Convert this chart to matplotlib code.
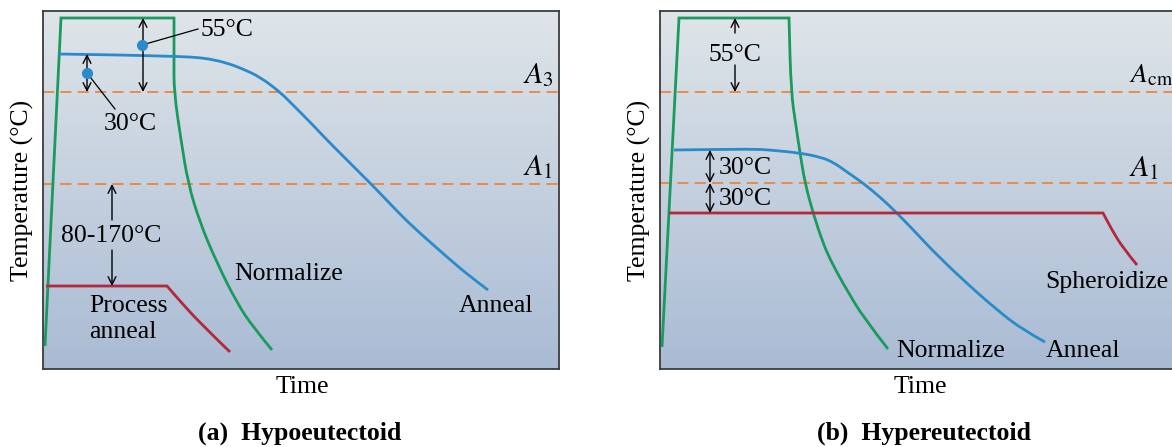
import numpy as np
import matplotlib
matplotlib.use("Agg")
import matplotlib.pyplot as plt
from matplotlib.colors import LinearSegmentedColormap
from matplotlib.path import Path
from matplotlib.patches import PathPatch

plt.rcParams['font.family'] = ['Liberation Serif', 'DejaVu Serif']
plt.rcParams['mathtext.fontset'] = 'stix'
plt.rcParams['lines.scale_dashes'] = False

# ---------------- data (time units, temperature units) ----------------
# (a) Hypoeutectoid
a_norm_t = [2, 18, 131, 131, 131, 138, 145, 157, 174, 194, 210, 229]
a_norm_T = [23, 351, 351, 309, 277, 229, 186, 146, 106, 66, 42, 19]
a_anneal_t = [15, 77, 117, 150, 167, 184, 200, 217, 237, 250, 267, 284, 300, 317,
              334, 352, 370, 404, 425, 445]
a_anneal_T = [315, 314, 313, 312, 310, 306, 300, 292, 277, 264, 247, 229, 213, 196,
              179, 160, 142, 112, 94, 79]
a_proc_t = [3, 124, 137, 157, 187]
a_proc_T = [83, 83, 68, 46, 17]
a_A3 = 277
a_A1 = 185

# (b) Hypereutectoid
b_norm_t = [2, 19, 129, 131, 136, 140, 145, 153, 163, 170, 180, 187, 203, 228]
b_norm_T = [22, 351, 351, 277, 243, 216, 186, 156, 126, 110, 91, 79, 52, 20]
b_anneal_t = [14, 93, 110, 140, 160, 173, 187, 203, 220, 237, 260, 272, 303, 337, 363, 385]
b_anneal_T = [219, 220, 219, 216, 212, 207, 197, 186, 172, 156, 132, 119, 89, 59, 39, 27]
b_sph_t = [9, 443, 452, 463, 477]
b_sph_T = [156, 156, 139, 121, 104]
b_Acm = 277
b_A1 = 186

XMAX, YMAX = 516, 358

GREEN = '#1b9a5e'
BLUE = '#2a8bc8'
RED = '#b3283a'
ORANGE = '#ea8a4c'
TXT = 18.5

W, H = 1172, 447
fig = plt.figure(figsize=(W / 100, H / 100), dpi=100)


def make_ax(left_px):
    ax = fig.add_axes([left_px / W, (H - 369) / H, XMAX / W, YMAX / H])
    ax.set_xlim(0, XMAX)
    ax.set_ylim(0, YMAX)
    cmap = LinearSegmentedColormap.from_list('bg', ['#a9bbd4', '#dfe5e9'])
    grad = np.linspace(0, 1, 256).reshape(-1, 1)
    ax.imshow(grad, extent=[0, XMAX, 0, YMAX], origin='lower', aspect='auto',
              cmap=cmap, zorder=0)
    ax.set_xticks([])
    ax.set_yticks([])
    for s in ax.spines.values():
        s.set_color('#3c3c3c')
        s.set_linewidth(1.3)
    return ax


def curve(ax, t, T, color, n_sharp):
    """Polyline through the first n_sharp points, then a smooth quadratic
    Bezier path using the remaining points as control points."""
    pts = list(zip(t, T))
    verts = [pts[0]]
    codes = [Path.MOVETO]
    k = n_sharp - 1
    for p in pts[1:k + 1]:
        verts.append(p)
        codes.append(Path.LINETO)
    rest = pts[k:]
    if len(rest) > 2:
        m = ((rest[0][0] + rest[1][0]) / 2, (rest[0][1] + rest[1][1]) / 2)
        verts.append(m)
        codes.append(Path.LINETO)
        for i in range(1, len(rest) - 1):
            c = rest[i]
            if i < len(rest) - 2:
                e = ((rest[i][0] + rest[i + 1][0]) / 2, (rest[i][1] + rest[i + 1][1]) / 2)
            else:
                e = rest[i + 1]
            verts += [c, e]
            codes += [Path.CURVE3, Path.CURVE3]
    else:
        for p in rest[1:]:
            verts.append(p)
            codes.append(Path.LINETO)
    ax.add_patch(PathPatch(Path(verts, codes), facecolor='none', edgecolor=color,
                           lw=2.0, zorder=3, joinstyle='miter', capstyle='butt'))


def arrow(ax, x, y0, y1, style='<->'):
    ax.annotate('', xy=(x, y1), xytext=(x, y0),
                arrowprops=dict(arrowstyle=style, lw=1.0, color='black',
                                shrinkA=0, shrinkB=0, mutation_scale=14), zorder=5)


def dashed(ax, y):
    ax.axhline(y, color=ORANGE, lw=1.4, dashes=(8, 4.5), zorder=2)


def ylab(ax):
    ax.text(-0.039, 0.5, 'Temperature (°C)', transform=ax.transAxes, fontsize=TXT,
            rotation=90, ha='center', va='center')


# ---------------- (a) ----------------
ax = make_ax(43)
dashed(ax, a_A3)
dashed(ax, a_A1)
curve(ax, a_norm_t, a_norm_T, GREEN, 3)
curve(ax, a_anneal_t, a_anneal_T, BLUE, 1)
curve(ax, a_proc_t, a_proc_T, RED, 2)

arrow(ax, 100, 277, 351)
arrow(ax, 44, 277, 315)
arrow(ax, 69, 149, a_A1, '->')
arrow(ax, 69, 119, 83, '->')
ax.plot([99, 155], [324, 340], color='black', lw=0.9, zorder=4)
ax.plot([44, 72], [296, 260], color='black', lw=0.9, zorder=4)
ax.plot([99], [324], 'o', color=BLUE, ms=7, zorder=6)
ax.plot([44], [296], 'o', color=BLUE, ms=7, zorder=6)

ax.text(157, 339, '55°C', fontsize=TXT, ha='left', va='center')
ax.text(61, 245, '30°C', fontsize=TXT, ha='left', va='center')
ax.text(68.5, 133, '80-170°C', fontsize=TXT, ha='center', va='center')
ax.text(191, 95, 'Normalize', fontsize=TXT, ha='left', va='center')
ax.text(46, 50, 'Process\nanneal', fontsize=TXT, ha='left', va='center', linespacing=1.2)
ax.text(416, 63, 'Anneal', fontsize=TXT, ha='left', va='center')
ax.text(480, 294, r'$A_3$', fontsize=TXT + 3, ha='left', va='center')
ax.text(480, 202, r'$A_1$', fontsize=TXT + 3, ha='left', va='center')

ylab(ax)
ax.text(0.502, -0.05, 'Time', transform=ax.transAxes, fontsize=TXT, ha='center', va='center')
ax.text(0.498, -0.179, '(a)  Hypoeutectoid', transform=ax.transAxes, fontsize=TXT,
        fontweight='bold', ha='center', va='center')

# ---------------- (b) ----------------
bx = make_ax(660)
dashed(bx, b_Acm)
dashed(bx, b_A1)
curve(bx, b_norm_t, b_norm_T, GREEN, 3)
curve(bx, b_anneal_t, b_anneal_T, BLUE, 1)
curve(bx, b_sph_t, b_sph_T, RED, 2)

arrow(bx, 75, 336, 351, '->')
arrow(bx, 75, 304, 277, '->')
arrow(bx, 50, b_A1, 219)
arrow(bx, 50, 156, b_A1)

bx.text(75, 314, '55°C', fontsize=TXT, ha='center', va='center')
bx.text(59, 201, '30°C', fontsize=TXT, ha='left', va='center')
bx.text(59, 170, '30°C', fontsize=TXT, ha='left', va='center')
bx.text(236, 18, 'Normalize', fontsize=TXT, ha='left', va='center')
bx.text(386, 18, 'Anneal', fontsize=TXT, ha='left', va='center')
bx.text(385, 87, 'Spheroidize', fontsize=TXT, ha='left', va='center')
bx.text(469, 293, r'$A_{\mathrm{cm}}$', fontsize=TXT + 1.5, ha='left', va='center')
bx.text(469, 201, r'$A_1$', fontsize=TXT + 3, ha='left', va='center')

ylab(bx)
bx.text(0.504, -0.05, 'Time', transform=bx.transAxes, fontsize=TXT, ha='center', va='center')
bx.text(0.512, -0.179, '(b)  Hypereutectoid', transform=bx.transAxes, fontsize=TXT,
        fontweight='bold', ha='center', va='center')

fig.savefig('out.png', dpi=100)
